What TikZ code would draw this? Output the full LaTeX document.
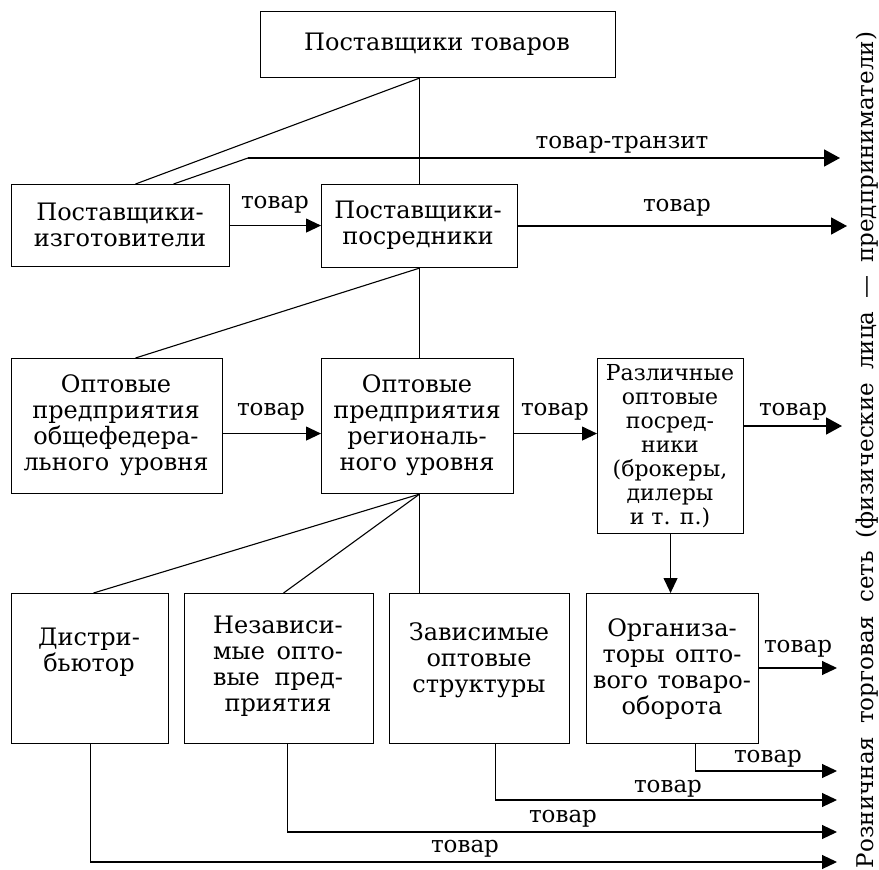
\documentclass[tikz,border=0pt]{standalone}
\usepackage{fontspec}
\setmainfont{DejaVu Serif}
\usetikzlibrary{arrows.meta,calc}
\newcommand\jl[3]{\makebox[#1]{#2\hfill#3}}
\begin{document}
\begin{tikzpicture}[x=1pt,y=-1pt,
  box/.style={draw, line width=1.1pt, anchor=north west, inner sep=0pt},
  txt/.style={align=center, font=\fontsize{24}{26}\selectfont, inner sep=0pt},
  txts/.style={align=center, font=\fontsize{22}{24}\selectfont, inner sep=0pt},
  lbl/.style={anchor=base, font=\fontsize{23}{26}\selectfont, inner sep=0pt},
  thin/.style={line width=1.1pt},
  arr/.style={line width=1.1pt, -{Triangle[length=15pt,width=14pt]}},
  thk/.style={line width=1.8pt, -{Triangle[length=16pt,width=17pt]}}]
\useasboundingbox (0,0) rectangle (879,870);
% boxes
\node[box, minimum width=355pt, minimum height=66pt] (b1) at (260,11) {};
\node[box, minimum width=218pt, minimum height=82pt] (b2) at (11,184) {};
\node[box, minimum width=196pt, minimum height=83pt] (b3) at (321,184) {};
\node[box, minimum width=211pt, minimum height=135pt] (b4) at (11,358) {};
\node[box, minimum width=192pt, minimum height=135pt] (b5) at (321,358) {};
\node[box, minimum width=146pt, minimum height=175pt] (b6) at (597,358) {};
\node[box, minimum width=157pt, minimum height=150pt] (b7) at (11,593) {};
\node[box, minimum width=189pt, minimum height=150pt] (b8) at (184,593) {};
\node[box, minimum width=180pt, minimum height=150pt] (b9) at (389,593) {};
\node[box, minimum width=172pt, minimum height=150pt] (b10) at (586,593) {};
% texts
\node[txt] (t1) at (437,44) {Поставщики товаров};
\node[txt] (t2) at (120,225) {Поставщики-\\изготовители};
\node[txt] (t3) at (418,225) {Поставщики-\\посредники};
\node[txt] (t4) at (116,425) {Оптовые\\предприятия\\общефедера-\\\jl{185pt}{льного}{уровня}};
\node[txt] (t5) at (417,425) {Оптовые\\предприятия\\региональ-\\\jl{155pt}{ного}{уровня}};
\node[txts] (t6) at (670,446) {Различные\\оптовые\\посред-\\ники\\(брокеры,\\дилеры\\и т. п.)};
\node[txt] (t7) at (89,652) {Дистри-\\бьютор};
\node[txt] (t8) at (278,666) {Независи-\\\jl{130pt}{мые}{опто-}\\\jl{130pt}{вые}{пред-}\\приятия};
\node[txt] (t9) at (479,660) {Зависимые\\оптовые\\структуры};
\node[txt] (t10) at (672,669) {Организа-\\\jl{139pt}{торы}{опто-}\\\jl{158pt}{вого}{товаро-}\\оборота};
% coordinates
\coordinate (j1) at ([xshift=-18.5pt]b1.south);
\coordinate (k1) at (248,158);
\coordinate (r0) at (840,158);
\coordinate (r1) at (847,226);
\coordinate (r2) at (842,426);
\coordinate (j2) at ([xshift=2pt]b5.south);
\coordinate (e1) at (837,668);
\coordinate (e2) at (837,771);
\coordinate (e3) at (837,800);
\coordinate (e4) at (837,832);
\coordinate (e5) at (837,862);
% connectors
\draw[thin] (j1) -- (b3.north);
\draw[thin] (j1) -- ([xshift=15pt]b2.north);
\draw[thin] ([xshift=53pt]b2.north) -- (k1);
\draw[thk] (k1) -- (r0);
\draw[arr] (b2.east) -- (b2.east -| b3.west);
\draw[thk] (b3.east |- r1) -- (r1);
\draw[thin] (b3.south) -- (b3.south |- b5.north);
\draw[thin] (b3.south) -- ([xshift=18.5pt]b4.north);
\draw[arr] ([yshift=-7.5pt]b4.east) -- ([yshift=-7.5pt]b4.east -| b5.west);
\draw[arr] ([yshift=-7.5pt]b5.east) -- ([yshift=-7.5pt]b5.east -| b6.west);
\draw[thk] (b6.east |- r2) -- (r2);
\draw[arr] (b6.south) -- (b6.south |- b10.north);
\draw[thin] (j2) -- ([xshift=3.5pt]b7.north);
\draw[thin] (j2) -- ([xshift=4.5pt]b8.north);
\draw[thin] (j2) -- (j2 |- b9.north);
\draw[arr] (b10.east |- e1) -- (e1);
\draw[arr] ([xshift=23pt]b10.south) |- (e2);
\draw[arr] ([xshift=16pt]b9.south) |- (e3);
\draw[arr] ([xshift=8.5pt]b8.south) |- (e4);
\draw[arr] (b7.south) |- (e5);
% labels
\node[lbl] (l1) at (622,148) {товар-транзит};
\node[lbl] (l2) at (275,208) {товар};
\node[lbl] (l3) at (677,211) {товар};
\node[lbl] (l4) at (271,415) {товар};
\node[lbl] (l5) at (555,415) {товар};
\node[lbl] (l6) at (793,415) {товар};
\node[lbl] (l7) at (798,652) {товар};
\node[lbl] (l8) at (768,762) {товар};
\node[lbl] (l9) at (668,792) {товар};
\node[lbl] (l10) at (563,822) {товар};
\node[lbl] (l11) at (465,852) {товар};
% right side text
\node[rotate=90, anchor=base, inner sep=0pt, font=\fontsize{23}{26}\selectfont] (rt) at (873,450)
  {\makebox[836pt]{Розничная\hfill торговая\hfill сеть\hfill (физические\hfill лица\hfill —\hfill предприниматели)}};
\end{tikzpicture}
\end{document}
